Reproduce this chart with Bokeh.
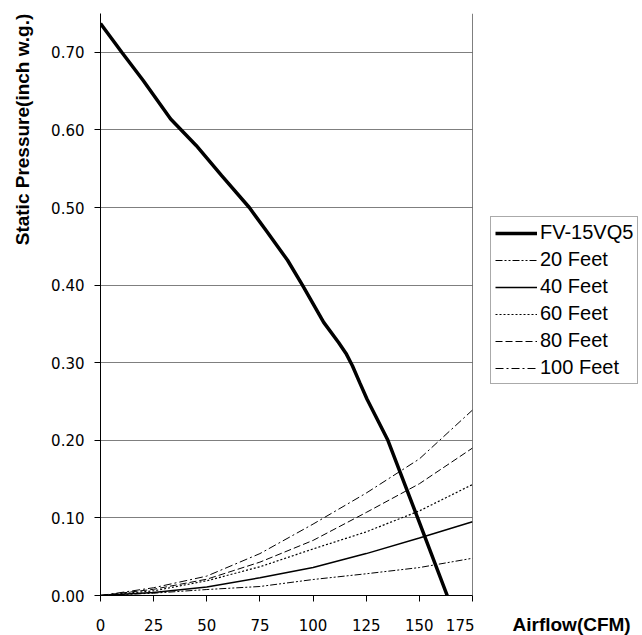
import math
from bokeh.plotting import figure
from bokeh.layouts import row
from bokeh.models import Range1d, FixedTicker, Legend, LegendItem, Label, Span, NumeralTickFormatter
from bokeh.embed import file_html
from bokeh.resources import INLINE

# Fan curve FV-15VQ5
fan_cfm = [0, 10, 20, 33, 45, 57, 70, 78, 88, 95, 105, 112, 115.5, 118.5, 122, 125.4, 135.2, 149.2, 163.1]
fan_sp = [0.737, 0.700, 0.664, 0.614, 0.580, 0.541, 0.500, 0.470, 0.432, 0.400, 0.352,
          0.326, 0.312, 0.296, 0.274, 0.253, 0.200, 0.100, 0.0]

# Duct loss curves
duct_cfm = [0, 25, 50, 75, 100, 125, 150, 175]
duct_20 = [0, 0.003, 0.0077, 0.0116, 0.0206, 0.028, 0.036, 0.048]
duct_40 = [0, 0.004, 0.011, 0.0228, 0.036, 0.054, 0.074, 0.095]
duct_60 = [0, 0.006, 0.019, 0.037, 0.060, 0.082, 0.109, 0.143]
duct_80 = [0, 0.008, 0.021, 0.043, 0.071, 0.107, 0.144, 0.190]
duct_100 = [0, 0.010, 0.025, 0.054, 0.092, 0.132, 0.176, 0.239]

x_ticks = [0, 25, 50, 75, 100, 125, 150, 175]
y_ticks = [0.0, 0.1, 0.2, 0.3, 0.4, 0.5, 0.6, 0.7]

series_labels = ["FV-15VQ5", "20 Feet", "40 Feet", "60 Feet", "80 Feet", "100 Feet"]
series_x = [fan_cfm, duct_cfm, duct_cfm, duct_cfm, duct_cfm, duct_cfm]
series_y = [fan_sp, duct_20, duct_40, duct_60, duct_80, duct_100]
styles = [dict(line_width=3.5, line_dash="solid"),
          dict(line_width=1, line_dash="7 2 2 2 2 2"),
          dict(line_width=1.5, line_dash="solid"),
          dict(line_width=1.2, line_dash="2 2"),
          dict(line_width=1, line_dash="7 3"),
          dict(line_width=1, line_dash="8 3 2 3")]

H = 635


def blank(width):
    f = figure(width=width, height=H, output_backend="svg", toolbar_location=None,
               x_range=Range1d(0, width), y_range=Range1d(0, H),
               x_axis_location=None, y_axis_location=None,
               min_border_left=0, min_border_right=0, min_border_top=0, min_border_bottom=0)
    f.outline_line_color = None
    f.grid.visible = False
    f.frame_align = False
    return f


# --- left strip: y-axis title ---
p0 = blank(40)
p0.add_layout(Label(x=22, y=H - 129, text="Static Pressure(inch w.g.)",
                    angle=math.pi / 2, text_align="center", text_baseline="middle",
                    text_font="Liberation Sans", text_font_style="bold", text_font_size="19px",
                    text_color="black"))

# --- main plot ---
p = figure(width=434, height=H, output_backend="svg", toolbar_location=None,
           x_range=Range1d(0, 175), y_range=Range1d(0, 0.75),
           min_border_left=60, min_border_right=2, min_border_top=13, min_border_bottom=40)
p.outline_line_color = None
p.background_fill_color = "white"

p.xgrid.visible = False
p.ygrid.ticker = FixedTicker(ticks=y_ticks[1:] + [0.75])
p.ygrid.grid_line_color = "#7f7f7f"
p.ygrid.grid_line_width = 1

p.xaxis.ticker = FixedTicker(ticks=x_ticks)
p.yaxis.ticker = FixedTicker(ticks=y_ticks)
p.yaxis.formatter = NumeralTickFormatter(format="0.00")
for ax in (p.xaxis[0], p.yaxis[0]):
    ax.axis_line_color = "black"
    ax.major_tick_line_color = "black"
    ax.major_tick_out = 6
    ax.major_tick_in = 0
    ax.minor_tick_line_color = None
    ax.major_label_text_font = "DejaVu Sans"
    ax.major_label_text_font_size = "15px"
    ax.major_label_text_color = "black"
p.xaxis.major_label_standoff = 17
p.yaxis.major_label_standoff = 10

p.add_layout(Span(location=175, dimension="height", line_color="black", line_width=1))

for xs, ys, st in zip(series_x, series_y, styles):
    p.line(xs, ys, line_color="black", **st)

# --- right strip: legend and x-axis title ---
p2 = blank(168)
items = []
for lab, xs, ys, st in zip(series_labels, series_x, series_y, styles):
    r = p2.line(xs, ys, line_color="black", visible=False, **st)
    items.append(LegendItem(label=lab, renderers=[r]))
legend = Legend(items=items, location=(16, 251))
legend.label_text_font = "Liberation Sans"
legend.label_text_font_size = "20px"
legend.label_text_color = "black"
legend.glyph_width = 42
legend.glyph_height = 20
legend.label_height = 20
legend.label_standoff = 3
legend.spacing = 4
legend.padding = 4
legend.margin = 0
legend.inactive_fill_alpha = 0
legend.border_line_color = "#555555"
legend.border_line_width = 1
p2.add_layout(legend)
p2.add_layout(Label(x=38, y=11, text="Airflow(CFM)",
                    text_align="left", text_baseline="middle",
                    text_font="Liberation Sans", text_font_style="bold", text_font_size="19px",
                    text_color="black"))

layout = row(p0, p, p2, spacing=0)
open("out.html", "w").write(file_html(layout, INLINE))
